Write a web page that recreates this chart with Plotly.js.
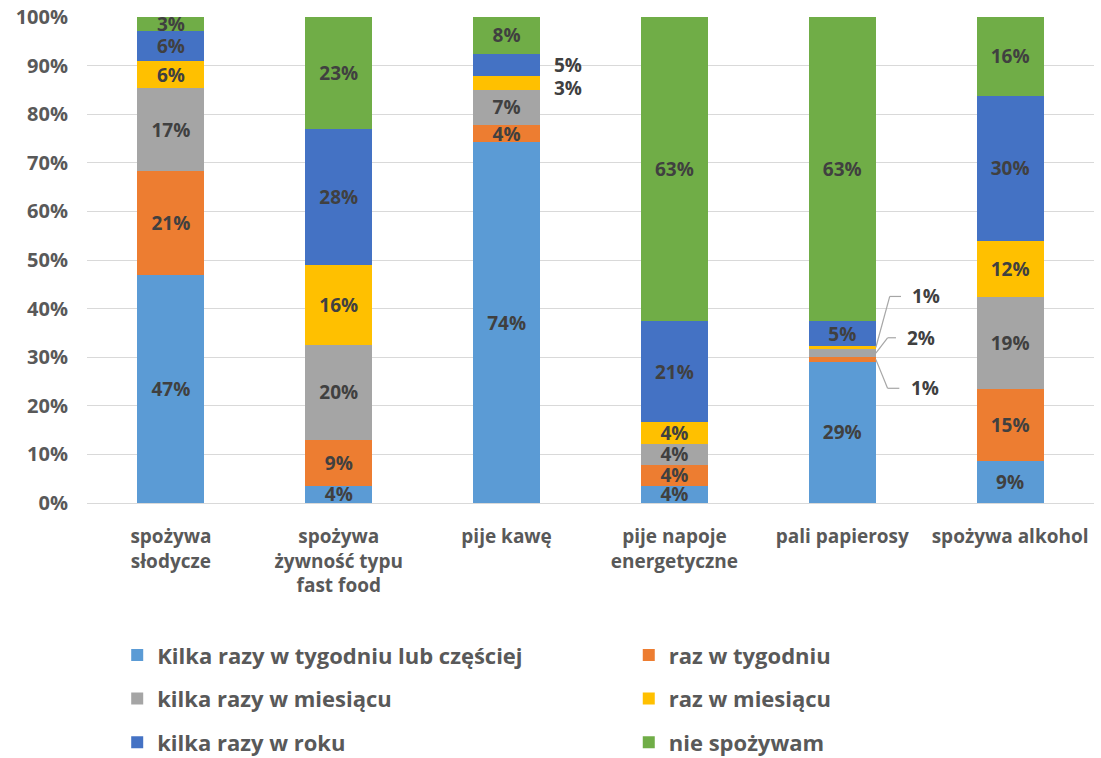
<!DOCTYPE html>
<html>
<head>
<meta charset="utf-8">
<script src="https://cdn.plot.ly/plotly-3.0.1.min.js"></script>
<style>html,body{margin:0;padding:0;background:#fff;}#chart{width:1101px;height:758px;}</style>
</head>
<body>
<div id="chart"></div>
<script>
const categories = ['spożywa<br>słodycze', 'spożywa<br>żywność typu<br>fast food', 'pije kawę', 'pije napoje<br>energetyczne', 'pali papierosy', 'spożywa alkohol'];
const seriesNames = ['Kilka razy w tygodniu lub częściej', 'raz w tygodniu', 'kilka razy w miesiącu', 'raz w miesiącu', 'kilka razy w roku', 'nie spożywam'];
const kilkaRazyWTygodniu = [47.0, 3.6, 74.2, 3.6, 29.1, 8.7];
const razWTygodniu       = [21.4, 9.4, 3.6, 4.2, 0.9, 14.8];
const kilkaRazyWMiesiacu = [16.9, 19.6, 7.2, 4.4, 1.7, 18.8];
const razWMiesiacu       = [5.6, 16.3, 2.8, 4.4, 0.6, 11.7];
const kilkaRazyWRoku     = [6.2, 28.0, 4.6, 20.8, 5.1, 29.8];
const nieSpozywam        = [2.9, 23.1, 7.6, 62.6, 62.6, 16.2];
const seriesValues = [kilkaRazyWTygodniu, razWTygodniu, kilkaRazyWMiesiacu, razWMiesiacu, kilkaRazyWRoku, nieSpozywam];
const colors = ['#5B9BD5', '#ED7D31', '#A5A5A5', '#FFC000', '#4472C4', '#70AD47'];

// labels drawn outside the bar: [series index, category index]
const outsideKawa = [[4, 2], [3, 2]];
const outsidePapierosy = [[3, 4], [2, 4], [1, 4]];
const hidden = outsideKawa.concat(outsidePapierosy);
const isHidden = (s, c) => hidden.some(h => h[0] === s && h[1] === c);
const lbl = v => Math.round(v) + '%';

const FONT = '"Open Sans", Lato, sans-serif';
const labelFont = {family: FONT, size: 19, color: '#404040', weight: 'bold'};

const traces = seriesValues.map((vals, s) => ({
  type: 'bar',
  name: seriesNames[s],
  x: categories,
  y: vals,
  marker: {color: colors[s], line: {width: 0}},
  text: vals.map((v, c) => isHidden(s, c) ? '' : lbl(v)),
  textposition: 'inside',
  insidetextanchor: 'middle',
  textangle: 0,
  constraintext: 'none',
  textfont: labelFont,
  insidetextfont: labelFont,
  hoverinfo: 'skip',
  legend: s % 2 === 0 ? 'legend' : 'legend2',
  legendgroup: 'g' + s
}));

// cumulative midpoints
function mid(s, c) {
  let base = 0;
  for (let i = 0; i < s; i++) base += seriesValues[i][c];
  return base + seriesValues[s][c] / 2;
}

const annotations = [];
const shapes = [];
// kawa: labels to the right of bar, no leader lines
const kawaShift = {4: 0, 3: -5};
outsideKawa.forEach(([s, c]) => {
  annotations.push({x: c + 0.27, y: mid(s, c), xref: 'x', yref: 'y', xanchor: 'left', yanchor: 'middle',
    text: lbl(seriesValues[s][c]), showarrow: false, font: labelFont, yshift: kawaShift[s]});
});
// papierosy: labels with elbow leader lines
const papLabelY = {3: 42.5, 2: 34.0, 1: 23.6};
const papTextX = {3: 4.405, 2: 4.375, 1: 4.395};
const papElbowX = {3: 4.283, 2: 4.27, 1: 4.27};
const papEndX = {3: 4.35, 2: 4.32, 1: 4.34};
outsidePapierosy.forEach(([s, c]) => {
  const ym = mid(s, c), yl = papLabelY[s];
  const ln = {color: '#A6A6A6', width: 1.2};
  shapes.push({type: 'line', xref: 'x', yref: 'y', x0: c + 0.2, y0: ym, x1: papElbowX[s], y1: yl, line: ln});
  shapes.push({type: 'line', xref: 'x', yref: 'y', x0: papElbowX[s], y0: yl, x1: papEndX[s], y1: yl, line: ln});
  annotations.push({x: papTextX[s], y: yl, xref: 'x', yref: 'y', xanchor: 'left', yanchor: 'middle',
    text: lbl(seriesValues[s][c]), showarrow: false, font: labelFont});
});

const legendFont = {family: FONT, size: 22, color: '#595959', weight: 'bold'};
const layout = {
  width: 1101, height: 758,
  margin: {l: 86.5, r: 6.5, t: 17.3, b: 254.7, autoexpand: false},
  paper_bgcolor: '#ffffff', plot_bgcolor: '#ffffff',
  barmode: 'stack', bargap: 0.6,
  showlegend: true,
  hovermode: false,
  xaxis: {
    type: 'category', showgrid: false, showline: false, ticks: '', zeroline: false,
    tickfont: {family: FONT, size: 19, color: '#595959', weight: 'bold'},
    ticklabelstandoff: 20, automargin: false
  },
  yaxis: {
    range: [0, 100], dtick: 10, ticksuffix: '%', showgrid: true, gridcolor: '#D9D9D9', gridwidth: 1,
    zeroline: true, zerolinecolor: '#D9D9D9', zerolinewidth: 1, showline: false, ticks: '',
    tickfont: {family: FONT, size: 20, color: '#595959', weight: 'bold'},
    ticklabelstandoff: 18, automargin: false, fixedrange: true
  },
  legend: {x: 0.030, xanchor: 'left', y: -0.270, yanchor: 'top', orientation: 'v', traceorder: 'grouped',
    tracegroupgap: 12, font: legendFont, bgcolor: 'rgba(0,0,0,0)'},
  legend2: {x: 0.538, xanchor: 'left', y: -0.270, yanchor: 'top', orientation: 'v', traceorder: 'grouped',
    tracegroupgap: 12, font: legendFont, bgcolor: 'rgba(0,0,0,0)'},
  annotations: annotations,
  shapes: shapes
};

Plotly.newPlot('chart', traces, layout, {displayModeBar: false, staticPlot: true});
</script>
</body>
</html>
